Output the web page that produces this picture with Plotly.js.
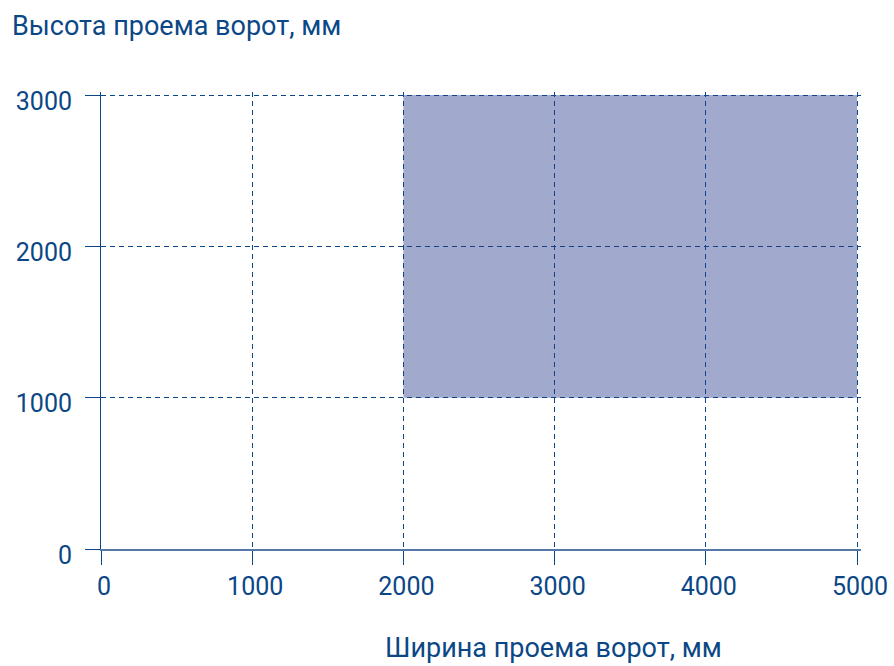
<!DOCTYPE html>
<html>
<head>
<meta charset="utf-8">
<script src="https://cdn.plot.ly/plotly-3.0.1.min.js"></script>
<style>html,body{margin:0;padding:0;background:#fff;}#chart{width:894px;height:666px;}</style>
</head>
<body>
<div id="chart"></div>
<script>
// Data: allowed gate opening range (mm)
const widthRange = [2000, 5000];
const heightRange = [1000, 3000];
const xTicks = [0, 1000, 2000, 3000, 4000, 5000];
const yTicks = [0, 1000, 2000, 3000];
const xTitle = "Ширина проема ворот, мм";
const yTitle = "Высота проема ворот, мм";

const blue = "#0b4786";
const polyX = [widthRange[0], widthRange[1], widthRange[1], widthRange[0], widthRange[0]];
const polyY = [heightRange[0], heightRange[0], heightRange[1], heightRange[1], heightRange[0]];

const trace = {
  type: "scatter", mode: "lines",
  x: polyX, y: polyY,
  fill: "toself",
  fillcolor: "rgba(40,60,140,0.437)",
  line: {width: 0},
  hoverinfo: "skip",
  showlegend: false
};

const axisCommon = {
  showgrid: true,
  gridcolor: blue,
  gridwidth: 1,
  griddash: "5px,4px",
  zeroline: false,
  ticks: "outside",
  tickcolor: blue,
  tickwidth: 1,
  tickfont: {family: "Roboto, sans-serif", size: 25, color: blue},
  fixedrange: true
};

const titleFont = {family: "Roboto, sans-serif", size: 27, color: blue};

// plot area: x 0 at px 101, 5000 at px 857; y 0 at px 549, 3000 at px 95
const plotW = 760, plotH = 457;
const layout = {
  width: 894, height: 666,
  margin: {l: 101, r: 894 - 101 - plotW, t: 549 - plotH, b: 117},
  paper_bgcolor: "#ffffff",
  plot_bgcolor: "#ffffff",
  showlegend: false,
  xaxis: Object.assign({}, axisCommon, {
    range: [0, 5000 * plotW / 756],
    tickvals: xTicks,
    ticktext: xTicks.map(String),
    ticklen: 14,
    ticklabelshift: 3,
    showline: true, linecolor: "#5577a6", linewidth: 1.5,
    title: {text: ""}
  }),
  yaxis: Object.assign({}, axisCommon, {
    range: [0, 3000 * plotH / 454],
    tickvals: yTicks,
    ticktext: yTicks.map(String),
    ticklen: 15,
    ticklabelstandoff: 8,
    ticklabelshift: 6,
    showline: true, linecolor: blue, linewidth: 1,
    title: {text: ""}
  }),
  annotations: [{
    text: yTitle, xref: "paper", yref: "paper",
    x: (10 - 101) / plotW, y: 1 + (92 - 26) / plotH, xanchor: "left", yanchor: "middle",
    showarrow: false, font: titleFont
  }, {
    text: xTitle, xref: "paper", yref: "paper",
    x: (553 - 101) / plotW, y: -(648 - 549) / plotH, xanchor: "center", yanchor: "middle",
    showarrow: false, font: titleFont
  }]
};

Plotly.newPlot("chart", [trace], layout, {displayModeBar: false, staticPlot: true});
</script>
</body>
</html>
